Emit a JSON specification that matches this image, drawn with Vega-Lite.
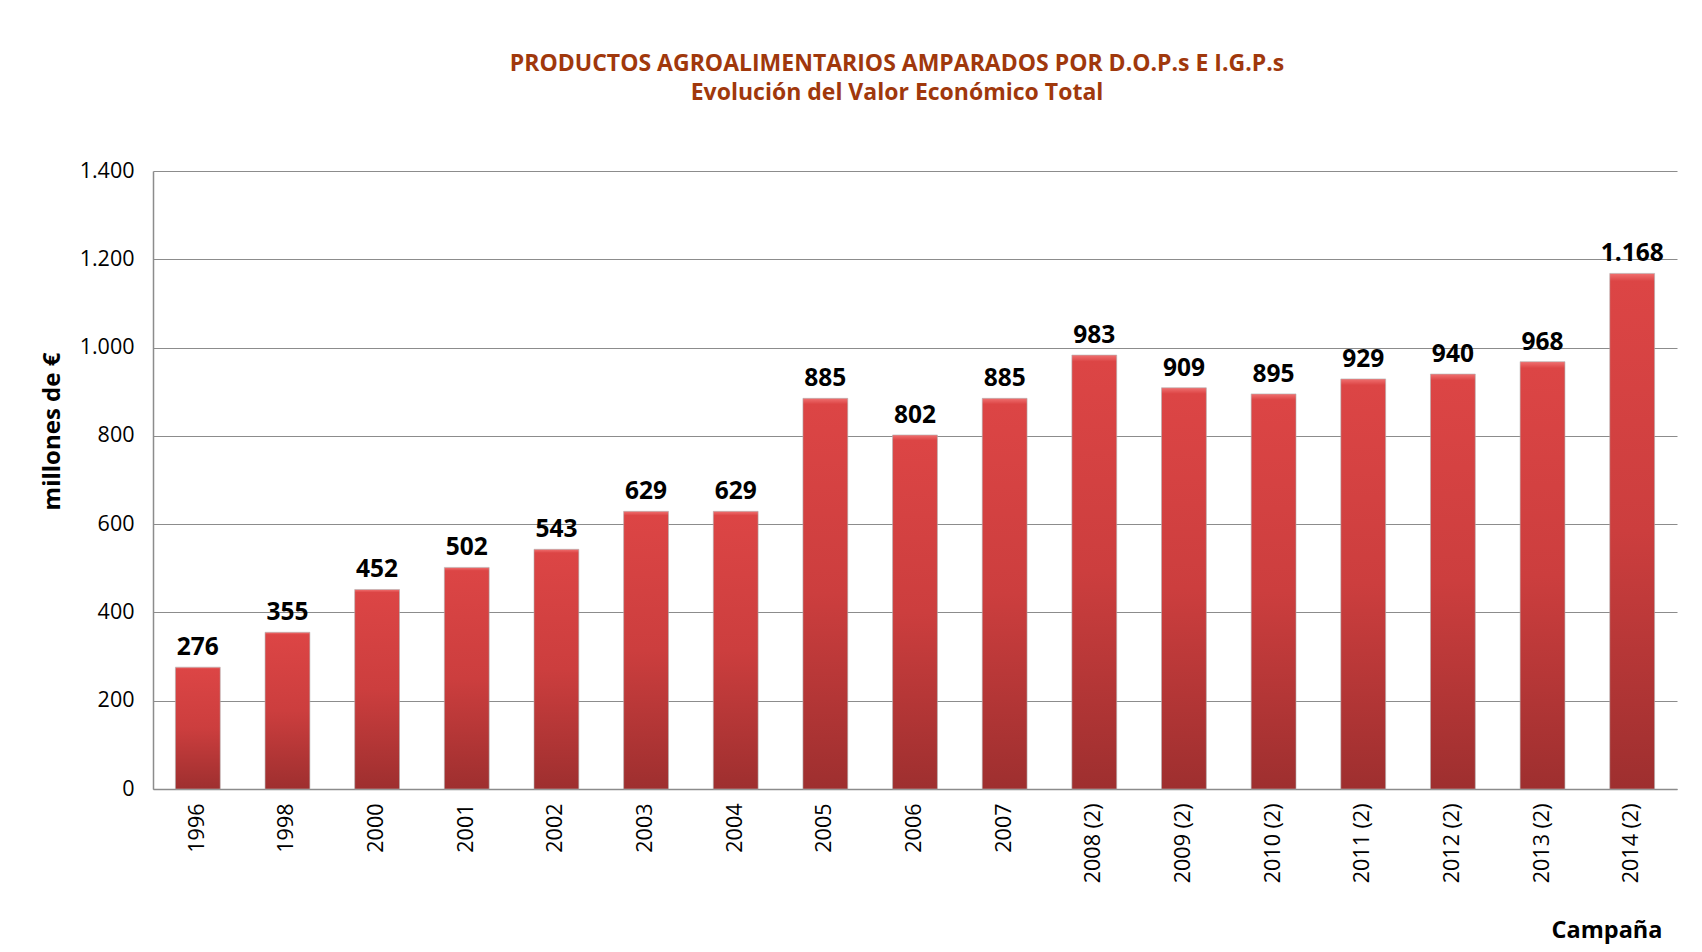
{
  "$schema": "https://vega.github.io/schema/vega-lite/v6.json",
  "autosize": "none",
  "width": 1524,
  "height": 618,
  "padding": {"left": 153, "top": 171, "right": 25, "bottom": 163},
  "background": "white",
  "config": {
    "locale": {"number": {"decimal": ",", "thousands": ".", "grouping": [3], "currency": ["", " €"]}},
    "view": {"stroke": null},
    "font": "Open Sans"
  },
  "title": {
    "text": ["PRODUCTOS AGROALIMENTARIOS AMPARADOS POR D.O.P.s E I.G.P.s", "Evolución del Valor Económico Total"],
    "font": "Open Sans",
    "fontSize": 23,
    "fontWeight": "bold",
    "color": "#A0380C",
    "anchor": "middle",
    "frame": "group",
    "dx": -18,
    "offset": 55,
    "lineHeight": 29
  },
  "data": {
    "values": [
      {"campana": "1996", "valor": 276},
      {"campana": "1998", "valor": 355},
      {"campana": "2000", "valor": 452},
      {"campana": "2001", "valor": 502},
      {"campana": "2002", "valor": 543},
      {"campana": "2003", "valor": 629},
      {"campana": "2004", "valor": 629},
      {"campana": "2005", "valor": 885},
      {"campana": "2006", "valor": 802},
      {"campana": "2007", "valor": 885},
      {"campana": "2008 (2)", "valor": 983},
      {"campana": "2009 (2)", "valor": 909},
      {"campana": "2010 (2)", "valor": 895},
      {"campana": "2011 (2)", "valor": 929},
      {"campana": "2012 (2)", "valor": 940},
      {"campana": "2013 (2)", "valor": 968},
      {"campana": "2014 (2)", "valor": 1168}
    ]
  },
  "encoding": {
    "x": {
      "field": "campana",
      "type": "ordinal",
      "sort": null,
      "scale": {"paddingInner": 0.5, "paddingOuter": 0.25},
      "axis": {
        "title": "Campaña",
        "titleFont": "Open Sans",
        "titleFontSize": 23.5,
        "titleFontWeight": "bold",
        "titleColor": "#000",
        "titleAnchor": "start",
        "titleAlign": "right",
        "titleBaseline": "middle",
        "titleX": 1509,
        "titleY": 141,
        "labelAngle": -90,
        "labelAlign": "right",
        "labelBaseline": "middle",
        "labelFontSize": 21.5,
        "labelColor": "#000",
        "labelPadding": 14,
        "ticks": false,
        "domainColor": "#8c8c8c",
        "domainWidth": 1.5
      }
    },
    "y": {
      "field": "valor",
      "type": "quantitative",
      "scale": {"domain": [0, 1400]},
      "axis": {
        "title": "millones de €",
        "titleFont": "Open Sans",
        "titleFontSize": 24,
        "titleFontWeight": "bold",
        "titleColor": "#000",
        "titleX": -101,
        "titleY": 260,
        "titleAngle": -90,
        "titleAlign": "center",
        "titleBaseline": "middle",
        "values": [0, 200, 400, 600, 800, 1000, 1200, 1400],
        "format": ",d",
        "labelFontSize": 21.5,
        "labelColor": "#000",
        "labelPadding": 19,
        "ticks": false,
        "grid": true,
        "gridColor": "#8c8c8c",
        "gridWidth": 1.2,
        "domainColor": "#8c8c8c",
        "domainWidth": 1.5
      }
    }
  },
  "layer": [
    {
      "mark": {
        "type": "bar",
        "stroke": "#b0b0b0",
        "strokeOpacity": 0.6,
        "strokeWidth": 1,
        "color": {
          "gradient": "linear",
          "x1": 0, "y1": 0, "x2": 0, "y2": 1,
          "stops": [
            {"offset": 0, "color": "#F07070"},
            {"offset": 0.015, "color": "#DC4545"},
            {"offset": 0.5, "color": "#CC3E3E"},
            {"offset": 1, "color": "#9E2F2F"}
          ]
        }
      }
    },
    {
      "mark": {
        "type": "text",
        "baseline": "alphabetic",
        "dy": -12,
        "fontSize": 24.5,
        "fontWeight": "bold",
        "font": "Open Sans",
        "color": "#000"
      },
      "encoding": {
        "text": {"field": "valor", "type": "quantitative", "format": ",d"}
      }
    }
  ]
}
